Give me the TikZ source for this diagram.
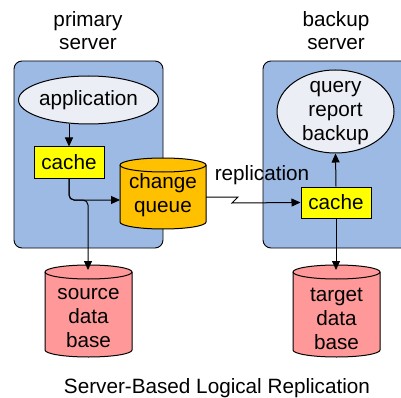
\documentclass[tikz,border=0pt]{standalone}
\usepackage{fontspec}
\setmainfont{Liberation Sans}
\usetikzlibrary{shapes.geometric,arrows.meta}
\definecolor{srvblue}{HTML}{9DBAE4}
\definecolor{ellfill}{HTML}{EBEEF4}
\definecolor{cacheyel}{HTML}{FFFF00}
\definecolor{queueor}{HTML}{FFC000}
\definecolor{dbpink}{HTML}{FF9999}
\newcommand\drawcyl[5]{%
  \filldraw[fill=#5] (#1-#4,#2+7) -- (#1-#4,#3-7)
    arc[start angle=180,end angle=360,x radius=#4pt,y radius=7pt]
    -- (#1+#4,#2+7)
    arc[start angle=0,end angle=180,x radius=#4pt,y radius=7pt] -- cycle;
  \draw (#1-#4,#2+7) arc[start angle=180,end angle=360,x radius=#4pt,y radius=7pt];
}
\begin{document}
\begin{tikzpicture}[x=1pt,y=-1pt,
  font=\fontsize{20.7}{24.3}\selectfont, line width=1pt,
  server/.style={draw=black, fill=srvblue, rounded corners=8pt, line width=0.9pt, inner sep=0pt},
  appell/.style={ellipse, draw, fill=ellfill, inner sep=0pt, align=center},
  cachebox/.style={draw, fill=cacheyel, minimum width=70pt, minimum height=31pt, inner sep=0pt},
  txt/.style={align=center, inner sep=0pt},
  arr/.style={-{Triangle[length=9pt,width=8pt]}, line width=1pt}]
\useasboundingbox (0,0) rectangle (401,398);
\clip (0,0) rectangle (401,398);

% server boxes
\node[server, minimum width=149pt, minimum height=187pt] (srvA) at (88.5,154.5) {};
\node[server, minimum width=149pt, minimum height=187pt] (srvB) at (337.5,154.5) {};

% titles
\node[txt, font=\fontsize{20.7}{23}\selectfont] (ttlA) at (88,31) {primary\\server};
\node[txt, font=\fontsize{20.7}{23}\selectfont] (ttlB) at (336,31) {backup\\server};

% cylinders
\drawcyl{163}{158}{229}{43}{queueor}
\node[txt] (queue) at (163,195) {change\\queue};
\drawcyl{88.5}{265}{357}{43.5}{dbpink}
\node[txt] (src) at (88.5,318) {source\\data\\base};
\drawcyl{336.5}{265}{357}{43.5}{dbpink}
\node[txt] (tgt) at (336.5,319) {target\\data\\base};

% primary nodes
\node[appell, minimum width=117pt, minimum height=48pt] (app) at (88.5,100) {application};
\node[cachebox] (cacheA) at (69,162.5) {cache};

% backup nodes
\node[appell, minimum width=117pt, minimum height=83pt] (query) at (335.5,111.5) {};
\node[txt] (querytxt) at (335.5,113) {query\\report\\backup};
\node[cachebox] (cacheB) at (336,202.5) {cache};

% labels
\node[txt] (repl) at (262,175) {replication};
\node[txt] (caption) at (217,388) {Server-Based Logical Replication};

% connector points
\coordinate (qin) at (120,200);
\coordinate (split) at (88,200);
\coordinate (srcin) at (88,270);
\coordinate (qout) at (206,197);
\coordinate (z1) at (238,197);
\coordinate (z2) at (232,203);
\coordinate (tgtin) at (336,270);

% connectors
\draw[arr] (cacheA.north |- app.south) -- (cacheA.north);
\draw[arr, rounded corners=5pt] (cacheA.south) |- (qin);
\draw[arr, rounded corners=5pt] (cacheA.south) |- (split) -- (srcin);
\draw[arr] (qout) -- (z1) -- (z2) -- (cacheB.west);
\draw[arr] (cacheB.north) -- (query.south);
\draw[arr] (cacheB.south) -- (tgtin);
\end{tikzpicture}
\end{document}
